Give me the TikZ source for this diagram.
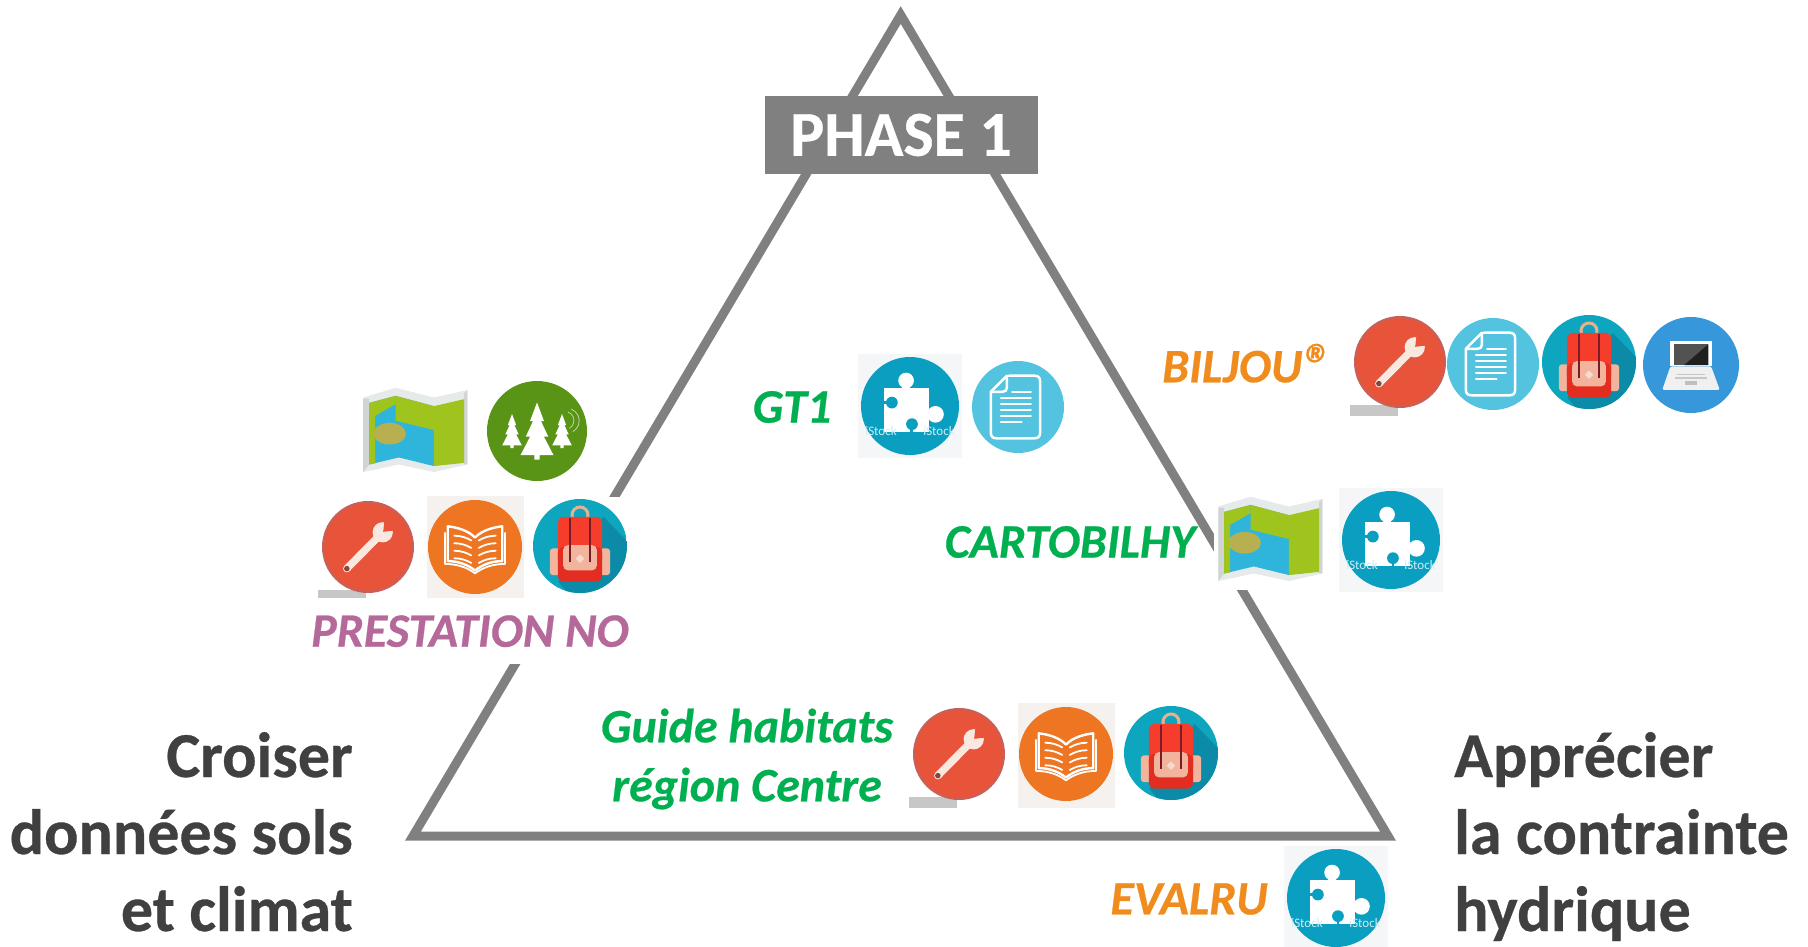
\documentclass[tikz,border=0pt]{standalone}
\usepackage{fontspec}
\setmainfont{Carlito}[BoldFeatures={FakeBold=0.5},BoldItalicFeatures={FakeBold=0.5}]
\definecolor{tri}{HTML}{808080}
\definecolor{dark}{HTML}{404040}
\definecolor{grn}{HTML}{00B050}
\definecolor{org}{HTML}{F08C1E}
\definecolor{mauve}{HTML}{B5699B}
\definecolor{wr}{HTML}{E8543A}
\definecolor{wrrim}{HTML}{C8605A}
\definecolor{wrw}{HTML}{F8E8E0}
\definecolor{bk}{HTML}{EE7623}
\definecolor{teal}{HTML}{0DA6BE}
\definecolor{teald}{HTML}{0C8BA8}
\definecolor{packr}{HTML}{F63C2A}
\definecolor{packd}{HTML}{E22D20}
\definecolor{packp}{HTML}{F2B49C}
\definecolor{packm}{HTML}{7A1C28}
\definecolor{packl}{HTML}{E8B090}
\definecolor{docb}{HTML}{54C3E0}
\definecolor{lap}{HTML}{3797DB}
\definecolor{puz}{HTML}{0A9FC0}
\definecolor{forest}{HTML}{5A9417}
\definecolor{pagebg}{HTML}{F5F1EF}
\definecolor{puzbg}{HTML}{F5F6F8}
\definecolor{mapg}{HTML}{A0C41E}
\definecolor{mapb}{HTML}{2FB5DC}
\definecolor{mapo}{HTML}{B8B050}
\definecolor{mapedge}{HTML}{D0D4D4}
\tikzset{x=1pt,y=-1pt,
  lbl/.style={inner sep=0pt,align=center},
  sideA/.style={lbl,text=dark,font=\fontsize{64}{64}\selectfont\bfseries},
  head/.style={lbl,font=\fontsize{48}{48}\selectfont\bfseries\itshape},
  whiteln/.style={draw=white,line cap=round,line join=round}
}
% wrench
\newcommand{\iwrench}[2]{\begin{scope}[shift={(#1,#2)},scale=46]
 \fill[fill=white] (-1.08,-1.08) rectangle (1.12,1.18);
 \fill[fill=black!22] (-1.08,.94) rectangle (-.05,1.18);
 \fill[fill=wrrim] (0,0) circle (1);
 \fill[fill=wr] (0,0) circle (.95);
 \draw[draw=wrw,line width=7.5pt,line cap=round] (-.46,.47) -- (.24,-.24);
 \fill[fill=wrw] (.32,-.32) circle (.22);
 \fill[fill=wr] (.33,-.33) -- (.58,-.36) -- (.58,-.58) -- (.36,-.58) -- cycle;
 \fill[fill=wrrim!70!black] (-.46,.47) circle (.06);
\end{scope}}
% open book
\newcommand{\ibook}[2]{\begin{scope}[shift={(#1,#2)},scale=47]
 \fill[fill=pagebg] (-1.03,-1.08) rectangle (1.05,1.15);
 \fill[fill=bk] (0,0) circle (1);
 \draw[whiteln,line width=2.4pt] (0,-.2) .. controls (-.15,-.36) and (-.4,-.42) .. (-.58,-.44) -- (-.58,.3) .. controls (-.35,.3) and (-.15,.38) .. (0,.5) .. controls (.15,.38) and (.35,.3) .. (.58,.3) -- (.58,-.44) .. controls (.4,-.42) and (.15,-.36) .. (0,-.2) -- cycle;
 \draw[whiteln,line width=1.8pt] (-.64,-.3) -- (-.64,.36) .. controls (-.35,.36) and (-.15,.45) .. (0,.56) .. controls (.15,.45) and (.35,.36) .. (.64,.36) -- (.64,-.3);
 \foreach \yy in {-.24,-.08,.08,.24}{
  \draw[whiteln,line width=1.8pt] (-.44,\yy) .. controls (-.3,\yy) and (-.18,\yy+.04) .. (-.08,\yy+.1);
  \draw[whiteln,line width=1.8pt] (.44,\yy) .. controls (.3,\yy) and (.18,\yy+.04) .. (.08,\yy+.1);
 }
\end{scope}}
% backpack
\newcommand{\ipack}[2]{\begin{scope}[shift={(#1,#2)},scale=47]
 \fill[fill=white] (-1.04,-1.04) rectangle (1.06,1.15);
 \begin{scope}
 \clip (0,0) circle (1);
 \fill[fill=teal] (-1,-1) rectangle (1,1);
 \fill[fill=teald] (.5,-.62) -- (1.2,.1) -- (1.2,1.2) -- (-.1,1.2) -- (-.46,.76) -- cycle;
 \end{scope}
 \draw[draw=packl,line width=3pt] (0,-.66) circle (.17);
 \fill[fill=packp,rounded corners=3pt] (-.64,.05) rectangle (.64,.62);
 \fill[fill=packr,rounded corners=6pt] (-.47,-.62) rectangle (.47,.4);
 \fill[fill=packd,rounded corners=6pt] (-.47,.02) rectangle (.47,.76);
 \fill[fill=packp,rounded corners=5pt] (-.36,-.02) rectangle (.36,.52);
 \fill[fill=white!50!packp] (0,.18) -- (.09,.27) -- (0,.36) -- (-.09,.27) -- cycle;
 \draw[draw=packm,line width=2.6pt] (-.21,-.6) -- (-.21,.33) (.21,-.6) -- (.21,.33);
\end{scope}}
% document
\newcommand{\idoc}[2]{\begin{scope}[shift={(#1,#2)},scale=46]
 \fill[fill=docb] (0,0) circle (1);
 \draw[whiteln,line width=2.5pt] (-.2,-.68) -- (.36,-.68) .. controls (.44,-.68) and (.48,-.64) .. (.48,-.56) -- (.48,.56) .. controls (.48,.64) and (.44,.68) .. (.36,.68) -- (-.47,.68) .. controls (-.55,.68) and (-.59,.64) .. (-.59,.56) -- (-.59,-.33) -- (-.24,-.68) -- (-.24,-.42) .. controls (-.24,-.36) and (-.28,-.33) .. (-.34,-.33) -- (-.59,-.33);
 \draw[whiteln,line width=2pt] (-.13,-.33) -- (.28,-.33);
 \foreach \yy in {-.2,-.07,.07,.2}{\draw[whiteln,line width=2pt] (-.37,\yy) -- (.28,\yy);}
 \draw[whiteln,line width=2pt] (-.37,.33) -- (.08,.33);
\end{scope}}
% laptop
\newcommand{\ilaptop}[2]{\begin{scope}[shift={(#1,#2)},scale=48]
 \fill[fill=lap] (0,0) circle (1);
 \fill[fill=white] (-.44,-.5) rectangle (.43,.03);
 \fill[fill=black!68] (-.36,-.43) rectangle (.36,0);
 \fill[fill=black!88] (.36,-.43) -- (.36,0) -- (-.14,0) -- cycle;
 \fill[fill=black!6,rounded corners=1.5pt] (-.43,.03) -- (.42,.03) -- (.6,.52) -- (-.6,.52) -- cycle;
 \draw[draw=black!22,line width=1.2pt] (-.3,.19) -- (.3,.19) (-.33,.27) -- (.33,.27);
 \fill[fill=black!25] (-.13,.33) rectangle (.12,.41);
\end{scope}}
% puzzle
\newcommand{\ipuzzle}[2]{\begin{scope}[shift={(#1,#2)},scale=49]
 \fill[fill=puzbg] (-1.06,-1.06) rectangle (1.06,1.06);
 \fill[fill=puz] (0,0) circle (1);
 \fill[fill=white] (-.54,-.36) rectangle (.38,.53);
 \fill[fill=white] (-.08,-.52) circle (.16);
 \fill[fill=white] (-.16,-.44) rectangle (0,-.3);
 \fill[fill=white] (.52,.17) circle (.17);
 \fill[fill=white] (.3,.09) rectangle (.44,.25);
 \fill[fill=puz] (-.37,-.07) circle (.12);
 \fill[fill=puz] (-.56,-.1) rectangle (-.42,-.04);
 \fill[fill=puz] (.04,.37) circle (.12);
 \fill[fill=puz] (.01,.42) rectangle (.07,.55);
\end{scope}
\node[inner sep=0pt,text=white!80!puz,font=\fontsize{13}{13}\selectfont] (stk#1a) at (#1-29,#2+25) {iStock};
\node[inner sep=0pt,text=white!80!puz,font=\fontsize{13}{13}\selectfont] (stk#1b) at (#1+29,#2+25) {iStock};
}
% folded map
\newcommand{\imap}[2]{\begin{scope}[shift={(#1,#2)},scale=54]
 \fill[fill=white] (-1.02,-.92) rectangle (1,.92);
 \fill[fill=mapedge!50!white] (-.94,-.62) -- (-.34,-.8) -- (.37,-.62) -- (.99,-.76) -- (.99,.62) -- (.37,.76) -- (-.28,.62) -- (-.94,.76) -- cycle;
 \fill[fill=mapedge] (-.94,-.6) -- (-.83,-.6) -- (-.83,.62) -- (-.94,.76) -- cycle;
 \fill[fill=mapedge] (.93,-.7) -- (.99,-.76) -- (.99,.62) -- (.93,.62) -- cycle;
 \fill[fill=mapb] (-.83,-.52) -- (-.34,-.65) -- (.37,-.46) -- (.37,.65) -- (-.28,.49) -- (-.83,.62) -- cycle;
 \fill[fill=mapg] (-.34,-.65) -- (.37,-.46) -- (.37,-.02) -- (-.34,-.19) -- cycle;
 \fill[fill=mapg] (-.83,-.52) -- (-.34,-.65) -- (-.34,-.5) -- (-.72,-.28) -- (-.72,.6) -- (-.83,.62) -- cycle;
 \fill[fill=mapg] (.37,-.46) -- (.93,-.59) -- (.93,.59) -- (.37,.65) -- cycle;
 \fill[fill=mapo] (-.45,.05) ellipse (.3 and .2);
\end{scope}}
% forest
\newcommand{\itreeshape}[3]{\begin{scope}[shift={(#1,#2)},xscale=#3*.58,yscale=#3]
 \fill[fill=white] (0,-1) -- (.42,-.35) -- (.24,-.35) -- (.68,.2) -- (.42,.2) -- (1,.85) -- (.16,.85) -- (.16,1) -- (-.16,1) -- (-.16,.85) -- (-1,.85) -- (-.42,.2) -- (-.68,.2) -- (-.24,-.35) -- (-.42,-.35) -- cycle;
\end{scope}}
\newcommand{\iforest}[2]{\begin{scope}[shift={(#1,#2)},scale=50]
 \fill[fill=forest] (0,0) circle (1);
 \itreeshape{0}{0}{.57}
 \itreeshape{-.5}{0}{.34}
 \itreeshape{.5}{0}{.34}
 \draw[draw=white!60!forest,line width=.8pt] (.62,-.38) arc (-70:60:.18);
 \draw[draw=white!60!forest,line width=.8pt] (.68,-.44) arc (-70:60:.25);
\end{scope}}
\begin{document}
\begin{tikzpicture}
\useasboundingbox (0,0) rectangle (1808,947);
% triangle
\coordinate (apex) at (900.7,15);
\coordinate (bl) at (413,836);
\coordinate (br) at (1388,836);
\draw[draw=tri,line width=9pt,miter limit=10] (apex) -- (br) -- (bl) -- cycle;
% PHASE label
\node[fill=tri,minimum width=273pt,minimum height=78pt,inner sep=0pt,text=white,font=\fontsize{64}{64}\selectfont\bfseries] (phase) at (901,135) {PHASE 1};
% left group
\imap{414}{431}
\iforest{537}{431}
\iwrench{368}{547}
\ibook{475}{547}
\ipack{580}{546}
\node[head,fill=white,text=mauve,minimum height=66pt,text depth=0pt] (prest) at (470,631) {PRESTATION NO};
% GT1
\node[head,text=grn] (gt) at (792,407) {GT1};
\ipuzzle{910}{406}
\idoc{1018}{407}
% Cartobilhy
\node[head,text=grn] (carto) at (1070,542) {CARTOBILHY};
\imap{1269}{540}
\ipuzzle{1391}{540}
% Biljou
\node[head,text=org] (bil) at (1247,364) {BILJOU\raisebox{-2pt}{\fontsize{58}{58}\selectfont ®}};
\iwrench{1400}{362}
\idoc{1493}{364}
\ipack{1589}{362}
\ilaptop{1691}{365}
% Guide
\node[head,text=grn] (guide) at (747,759) {Guide habitats\\[11pt]région Centre};
\iwrench{959}{754}
\ibook{1066}{754}
\ipack{1171}{753}
% Evalru
\node[head,text=org] (eval) at (1189,899) {EVALRU};
\ipuzzle{1336}{898}
% side text
\node[sideA,anchor=base east] (c1) at (353,777) {Croiser};
\node[sideA,anchor=base east] (c2) at (353,854) {données sols};
\node[sideA,anchor=base east] (c3) at (353,931) {et climat};
\node[sideA,anchor=base west] (a1) at (1454,777) {Apprécier};
\node[sideA,anchor=base west] (a2) at (1454,854) {la contrainte};
\node[sideA,anchor=base west] (a3) at (1454,931) {hydrique};
\end{tikzpicture}
\end{document}
